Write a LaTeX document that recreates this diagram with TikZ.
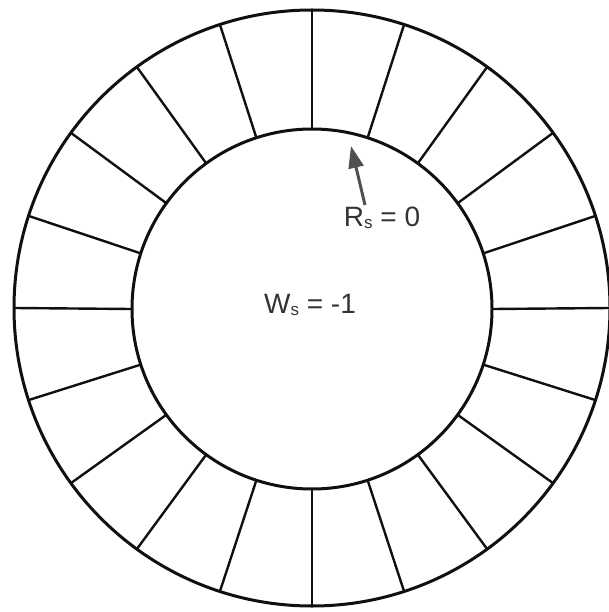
\documentclass[tikz,border=0pt]{standalone}
\usepackage{fontspec}
\setmainfont{Liberation Sans}
\usetikzlibrary{arrows.meta}
\definecolor{ink}{HTML}{101010}
\definecolor{txt}{HTML}{333333}
\definecolor{arr}{HTML}{505050}
\newcommand{\sub}[1]{\raisebox{-2pt}{\fontsize{17}{17}\selectfont #1}}
\tikzset{
  ring/.style={circle, draw=ink, line width=3pt, inner sep=0pt, outer sep=0pt},
  spoke/.style={draw=ink, line width=2.4pt},
  lbl/.style={text=txt, font=\fontsize{28}{30}\selectfont, inner sep=0pt},
  pointer/.style={draw=arr, line width=3pt, -{Triangle[length=22pt,width=15pt]}}
}
\begin{document}
\begin{tikzpicture}[x=1pt,y=-1pt]
  \useasboundingbox (0,0) rectangle (609,612);
  \node[ring, minimum size=596pt] (outer) at (312,308) {};
  \node[ring, minimum size=360pt] (inner) at (312,309) {};
  \foreach \k in {0,...,19} {
    \draw[spoke] (inner.\k*18) -- (outer.\k*18);
  }
  \node[lbl] (rs) at (382,218) {R\sub{s} = 0};
  \node[lbl] (ws) at (310,305) {W\sub{s} = -1};
  \coordinate (tail) at (365,205);
  \coordinate (tip) at (351,146);
  \draw[pointer] (tail) -- (tip);
\end{tikzpicture}
\end{document}
